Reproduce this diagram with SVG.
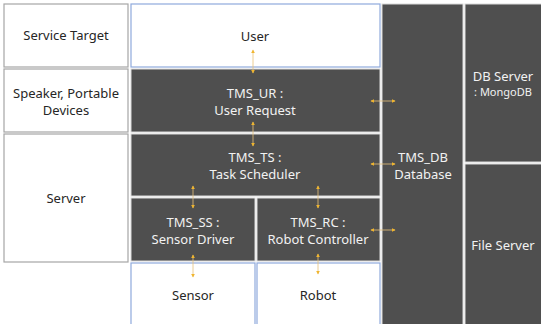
<svg xmlns="http://www.w3.org/2000/svg" width="541" height="324" viewBox="0 0 541 324">
  <defs>
    <marker id="tip" viewBox="0 0 6 6" refX="5" refY="3" markerWidth="4.5" markerHeight="4.5" orient="auto-start-reverse">
      <path d="M0,0 L6,3 L0,6 z" fill="#f0b52e"/>
    </marker>
    <style>
      .lite { fill: #ffffff; stroke: #a6a6a6; stroke-width: 1.2; }
      .blue { fill: #ffffff; stroke: #8faadc; stroke-width: 1.2; }
      .dark { fill: #4f4f4f; stroke: #d9d9d9; stroke-width: 1; }
      .t { font-family: "Noto Sans", "Open Sans", sans-serif; font-size: 13px; text-anchor: middle; fill: #262626; }
      .w { fill: #f2f2f2; }
      .s { font-size: 11px; }
      .link { stroke: #e8c27a; stroke-width: 0.8; fill: none; marker-start: url(#tip); marker-end: url(#tip); }
    </style>
  </defs>
  <rect width="541" height="324" fill="#ffffff"/>

  <g id="service-target">
    <rect class="lite" x="4" y="4" width="124" height="63"/>
    <text class="t" x="66" y="40">Service Target</text>
  </g>
  <g id="user">
    <rect class="blue" x="131" y="4" width="249" height="63"/>
    <text class="t" x="255" y="41">User</text>
  </g>
  <g id="devices">
    <rect class="lite" x="4" y="69" width="124" height="63"/>
    <text class="t" x="66" y="98">Speaker, Portable</text>
    <text class="t" x="66" y="115">Devices</text>
  </g>
  <g id="server">
    <rect class="lite" x="4" y="134" width="124" height="128"/>
    <text class="t" x="66" y="203">Server</text>
  </g>
  <g id="tms-ur">
    <rect class="dark" x="131" y="69" width="249" height="63"/>
    <text class="t w" x="255" y="98">TMS_UR :</text>
    <text class="t w" x="255" y="115">User Request</text>
  </g>
  <g id="tms-ts">
    <rect class="dark" x="131" y="134" width="249" height="62"/>
    <text class="t w" x="255" y="162">TMS_TS :</text>
    <text class="t w" x="255" y="179">Task Scheduler</text>
  </g>
  <g id="tms-ss">
    <rect class="dark" x="131" y="198" width="124" height="63"/>
    <text class="t w" x="193" y="227">TMS_SS :</text>
    <text class="t w" x="193" y="244">Sensor Driver</text>
  </g>
  <g id="tms-rc">
    <rect class="dark" x="257" y="198" width="123" height="63"/>
    <text class="t w" x="318" y="227">TMS_RC :</text>
    <text class="t w" x="318" y="244">Robot Controller</text>
  </g>
  <g id="sensor">
    <rect class="blue" x="131" y="263" width="124" height="64"/>
    <text class="t" x="193" y="300">Sensor</text>
  </g>
  <g id="robot">
    <rect class="blue" x="257" y="263" width="123" height="64"/>
    <text class="t" x="318" y="300">Robot</text>
  </g>
  <g id="tms-db">
    <rect class="dark" x="382" y="4" width="81" height="323"/>
    <text class="t w" x="423" y="162">TMS_DB</text>
    <text class="t w" x="423" y="179">Database</text>
  </g>
  <g id="db-server">
    <rect class="dark" x="465" y="4" width="79" height="158"/>
    <text class="t w" x="503" y="81">DB Server</text>
    <text class="t w s" x="503" y="96">: MongoDB</text>
  </g>
  <g id="file-server">
    <rect class="dark" x="465" y="164" width="79" height="163"/>
    <text class="t w" x="503" y="250">File Server</text>
  </g>

  <g id="connectors">
    <line class="link" x1="253" y1="50" x2="253" y2="73"/>
    <line class="link" x1="253" y1="122" x2="253" y2="146"/>
    <line class="link" x1="193" y1="186" x2="193" y2="208"/>
    <line class="link" x1="193" y1="255" x2="193" y2="277"/>
    <line class="link" x1="318" y1="186" x2="318" y2="208"/>
    <line class="link" x1="318" y1="254" x2="318" y2="274"/>
    <line class="link" x1="371" y1="101" x2="395" y2="101"/>
    <line class="link" x1="371" y1="164" x2="395" y2="164"/>
    <line class="link" x1="371" y1="230" x2="395" y2="230"/>
  </g>
</svg>
